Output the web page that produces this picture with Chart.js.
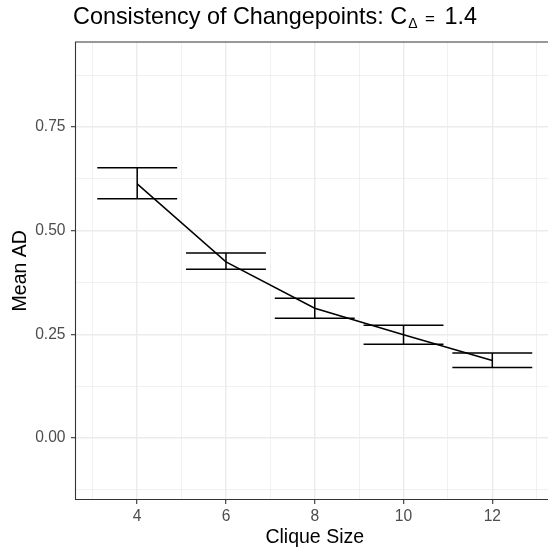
<!DOCTYPE html>
<html>
<head>
<meta charset="utf-8">
<script src="https://cdn.jsdelivr.net/npm/chart.js@4"></script>
<style>
  html, body { margin: 0; padding: 0; background: #fff; }
  #frame { position: relative; width: 548px; height: 548px; overflow: hidden; }
  #wrap { position: absolute; left: 0; top: 0; width: 554px; height: 548px; }
  #title {
    position: absolute; left: 73px; top: 4.5px; z-index: 2;
    font-family: "Liberation Sans", Arial, sans-serif;
    font-size: 23.4px; line-height: 1; color: #000; white-space: nowrap;
  }
  #title .sub { font-size: 14px; position: relative; top: 4.5px; margin-left: 1px; }
  #title .eq { font-size: 17px; margin: 0 3px 0 1px; }
</style>
</head>
<body>
<div id="frame">
  <div id="title">Consistency of Changepoints: C<span class="sub">Δ</span> <span class="eq">=</span> 1.4</div>
  <div id="wrap"><canvas id="chart"></canvas></div>
</div>
<script>
// clique sizes and mean AD with interval bounds
const cliqueSizes = [4, 6, 8, 10, 12];
const meanAD  = [0.613, 0.425, 0.313, 0.249, 0.187];
const lowerAD = [0.577, 0.407, 0.289, 0.226, 0.170];
const upperAD = [0.652, 0.446, 0.337, 0.272, 0.205];

// axis ticks (major labelled, minor grid only)
const xMajor = [4, 6, 8, 10, 12];
const xMinor = [3, 5, 7, 9, 11, 13];
const yMajor = [0, 0.25, 0.5, 0.75];
const yMinor = [-0.125, 0.125, 0.375, 0.625, 0.875];

const FONT = '"Liberation Sans", Arial, sans-serif';
const CAP_HALF = 0.9; // half width of the error bar caps, in x units

const isMajor = (list, v) => list.some(m => Math.abs(m - v) < 1e-9);

// panel border: left, top and bottom (right side runs off the page)
const panelFrame = {
  id: 'panelFrame',
  afterDatasetsDraw(chart) {
    const { ctx, chartArea: a } = chart;
    ctx.save();
    ctx.strokeStyle = '#333333';
    ctx.lineWidth = 1.1;
    ctx.beginPath();
    ctx.moveTo(a.right + 2, a.top);
    ctx.lineTo(a.left, a.top);
    ctx.lineTo(a.left, a.bottom);
    ctx.lineTo(a.right + 2, a.bottom);
    ctx.stroke();
    ctx.restore();
  }
};

// error bars drawn through the chart scales
const errorBars = {
  id: 'errorBars',
  afterDatasetsDraw(chart) {
    const { ctx, chartArea: a, scales: { x, y } } = chart;
    ctx.save();
    ctx.beginPath();
    ctx.rect(a.left, a.top, a.right - a.left, a.bottom - a.top);
    ctx.clip();
    ctx.strokeStyle = '#000';
    ctx.lineWidth = 1.5;
    cliqueSizes.forEach((s, i) => {
      const xc = x.getPixelForValue(s);
      const xl = x.getPixelForValue(s - CAP_HALF);
      const xr = x.getPixelForValue(s + CAP_HALF);
      const yl = y.getPixelForValue(lowerAD[i]);
      const yh = y.getPixelForValue(upperAD[i]);
      ctx.beginPath();
      ctx.moveTo(xl, yh); ctx.lineTo(xr, yh);
      ctx.moveTo(xl, yl); ctx.lineTo(xr, yl);
      ctx.moveTo(xc, yh); ctx.lineTo(xc, yl);
      ctx.stroke();
    });
    ctx.restore();
  }
};

const gridColor = '#EBEBEB';

new Chart(document.getElementById('chart'), {
  type: 'line',
  data: {
    datasets: [{
      data: cliqueSizes.map((s, i) => ({ x: s, y: meanAD[i] })),
      borderColor: '#000',
      borderWidth: 1.5,
      pointRadius: 0,
      tension: 0,
      fill: false
    }]
  },
  options: {
    responsive: true,
    maintainAspectRatio: false,
    animation: false,
    layout: { padding: { top: 42, right: 0, left: 0, bottom: 0 } },
    plugins: { legend: { display: false }, tooltip: { enabled: false } },
    scales: {
      x: {
        type: 'linear',
        min: 2.61,
        max: 13.39,
        afterBuildTicks(scale) {
          scale.ticks = [...xMinor, ...xMajor].sort((a, b) => a - b).map(v => ({ value: v }));
        },
        afterFit(scale) { scale.height = 48.5; },
        border: { display: false },
        grid: {
          color: gridColor,
          lineWidth: c => isMajor(xMajor, c.tick.value) ? 1.4 : 0.7,
          tickColor: c => isMajor(xMajor, c.tick.value) ? '#333333' : 'rgba(0,0,0,0)',
          tickLength: 4.5,
          tickWidth: 1.1
        },
        ticks: {
          autoSkip: false,
          maxRotation: 0,
          padding: 3,
          color: '#4D4D4D',
          font: { family: FONT, size: 15.6 },
          callback: v => isMajor(xMajor, v) ? String(v) : ''
        },
        title: {
          display: true,
          text: 'Clique Size',
          color: '#000',
          font: { family: FONT, size: 19.5, lineHeight: 1.1 },
          padding: { top: 0, bottom: 0 }
        }
      },
      y: {
        min: -0.148,
        max: 0.955,
        afterBuildTicks(scale) {
          scale.ticks = [...yMinor, ...yMajor].sort((a, b) => a - b).map(v => ({ value: v }));
        },
        afterFit(scale) { scale.width = 75.5; },
        border: { display: false },
        grid: {
          color: gridColor,
          lineWidth: c => isMajor(yMajor, c.tick.value) ? 1.4 : 0.7,
          tickColor: c => isMajor(yMajor, c.tick.value) ? '#333333' : 'rgba(0,0,0,0)',
          tickLength: 4.5,
          tickWidth: 1.1
        },
        ticks: {
          autoSkip: false,
          padding: 5.5,
          color: '#4D4D4D',
          font: { family: FONT, size: 15.6 },
          callback: v => isMajor(yMajor, v) ? v.toFixed(2) : ''
        },
        title: {
          display: true,
          text: 'Mean AD',
          color: '#000',
          font: { family: FONT, size: 19.5, lineHeight: 1.1 },
          padding: { top: 9.5, bottom: 0 }
        }
      }
    }
  },
  plugins: [panelFrame, errorBars]
});
</script>
</body>
</html>
